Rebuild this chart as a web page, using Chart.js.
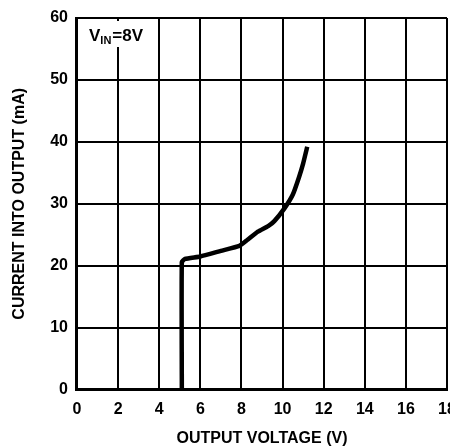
<!DOCTYPE html>
<html><head><meta charset="utf-8">
<script src="https://cdn.jsdelivr.net/npm/chart.js@4.4.1/dist/chart.umd.min.js"></script>
<style>
html,body{margin:0;padding:0;background:#fff;overflow:hidden;}
#wrap{width:450px;height:448px;position:relative;}
</style></head>
<body><div id="wrap"><canvas id="c"></canvas></div>
<script>
const outputVoltage = [5.1, 5.1, 5.25, 6.0, 7.0, 7.9, 8.3, 8.8, 9.3, 9.6, 10.1, 10.5, 10.8, 11.0, 11.2];
const currentIntoOutput = [0, 20.6, 21.1, 21.5, 22.4, 23.2, 24.2, 25.5, 26.4, 27.2, 29.3, 31.5, 34.3, 36.5, 39.2];
const xTicks = [0, 2, 4, 6, 8, 10, 12, 14, 16, 18];
const yTicks = [0, 10, 20, 30, 40, 50, 60];
const xTitle = 'OUTPUT VOLTAGE (V)';
const yTitle = 'CURRENT INTO OUTPUT (mA)';

const FONT = "'Liberation Sans Narrow', 'Arial Narrow', 'Liberation Sans', sans-serif";

const annot = {
  id: 'annot',
  afterDraw(chart) {
    const ctx = chart.ctx, xs = chart.scales.x, ys = chart.scales.y;
    const x0 = xs.getPixelForValue(0) + 12, yTop = ys.getPixelForValue(60);
    const yb = yTop + 23;
    ctx.save();
    ctx.fillStyle = '#fff';
    ctx.fillRect(x0 - 3, yTop + 3, 68, 26);
    ctx.fillStyle = '#000';
    ctx.textBaseline = 'alphabetic';
    ctx.font = 'bold 17px ' + FONT;
    ctx.fillText('V', x0, yb);
    let w = ctx.measureText('V').width;
    ctx.font = 'bold 11px ' + FONT;
    ctx.fillText('IN', x0 + w, yb + 3);
    let w2 = ctx.measureText('IN').width;
    ctx.font = 'bold 17px ' + FONT;
    ctx.fillText('=8V', x0 + w + w2 + 1, yb);
    ctx.restore();
  }
};

new Chart(document.getElementById('c'), {
  type: 'scatter',
  data: {
    datasets: [{
      data: outputVoltage.map((v, i) => ({x: v, y: currentIntoOutput[i]})),
      showLine: true,
      borderColor: '#000',
      borderWidth: 4.5,
      pointRadius: 0,
      tension: 0.15,
      borderJoinStyle: 'round',
      borderCapStyle: 'butt'
    }]
  },
  options: {
    responsive: true,
    maintainAspectRatio: false,
    animation: false,
    layout: {padding: {top: 18, right: 3, bottom: 0, left: 10}},
    plugins: {legend: {display: false}, tooltip: {enabled: false}},
    scales: {
      x: {
        type: 'linear', min: 0, max: 18,
        afterBuildTicks: s => { s.ticks = xTicks.map(v => ({value: v})); },
        afterFit: s => { s.paddingRight = 0; s.paddingLeft = 0; },
        grid: {color: '#000', lineWidth: 2, drawTicks: false},
        border: {color: '#000', width: 3},
        ticks: {color: '#000', font: {family: FONT, size: 16, weight: 'bold'}, padding: 10, maxRotation: 0, autoSkip: false},
        title: {display: true, text: xTitle, color: '#000', font: {family: FONT, size: 16, weight: 'bold'}, padding: {top: 0, bottom: 0}}
      },
      y: {
        type: 'linear', min: 0, max: 60,
        afterBuildTicks: s => { s.ticks = yTicks.map(v => ({value: v})); },
        afterFit: s => { s.paddingTop = 0; s.paddingBottom = 0; },
        grid: {color: '#000', lineWidth: 2, drawTicks: false},
        border: {color: '#000', width: 3},
        ticks: {color: '#000', font: {family: FONT, size: 16, weight: 'bold'}, padding: 9},
        title: {display: true, text: yTitle, color: '#000', font: {family: FONT, size: 16, weight: 'bold'}, padding: {top: 0, bottom: 12}}
      }
    }
  },
  plugins: [annot]
});
</script></body></html>
